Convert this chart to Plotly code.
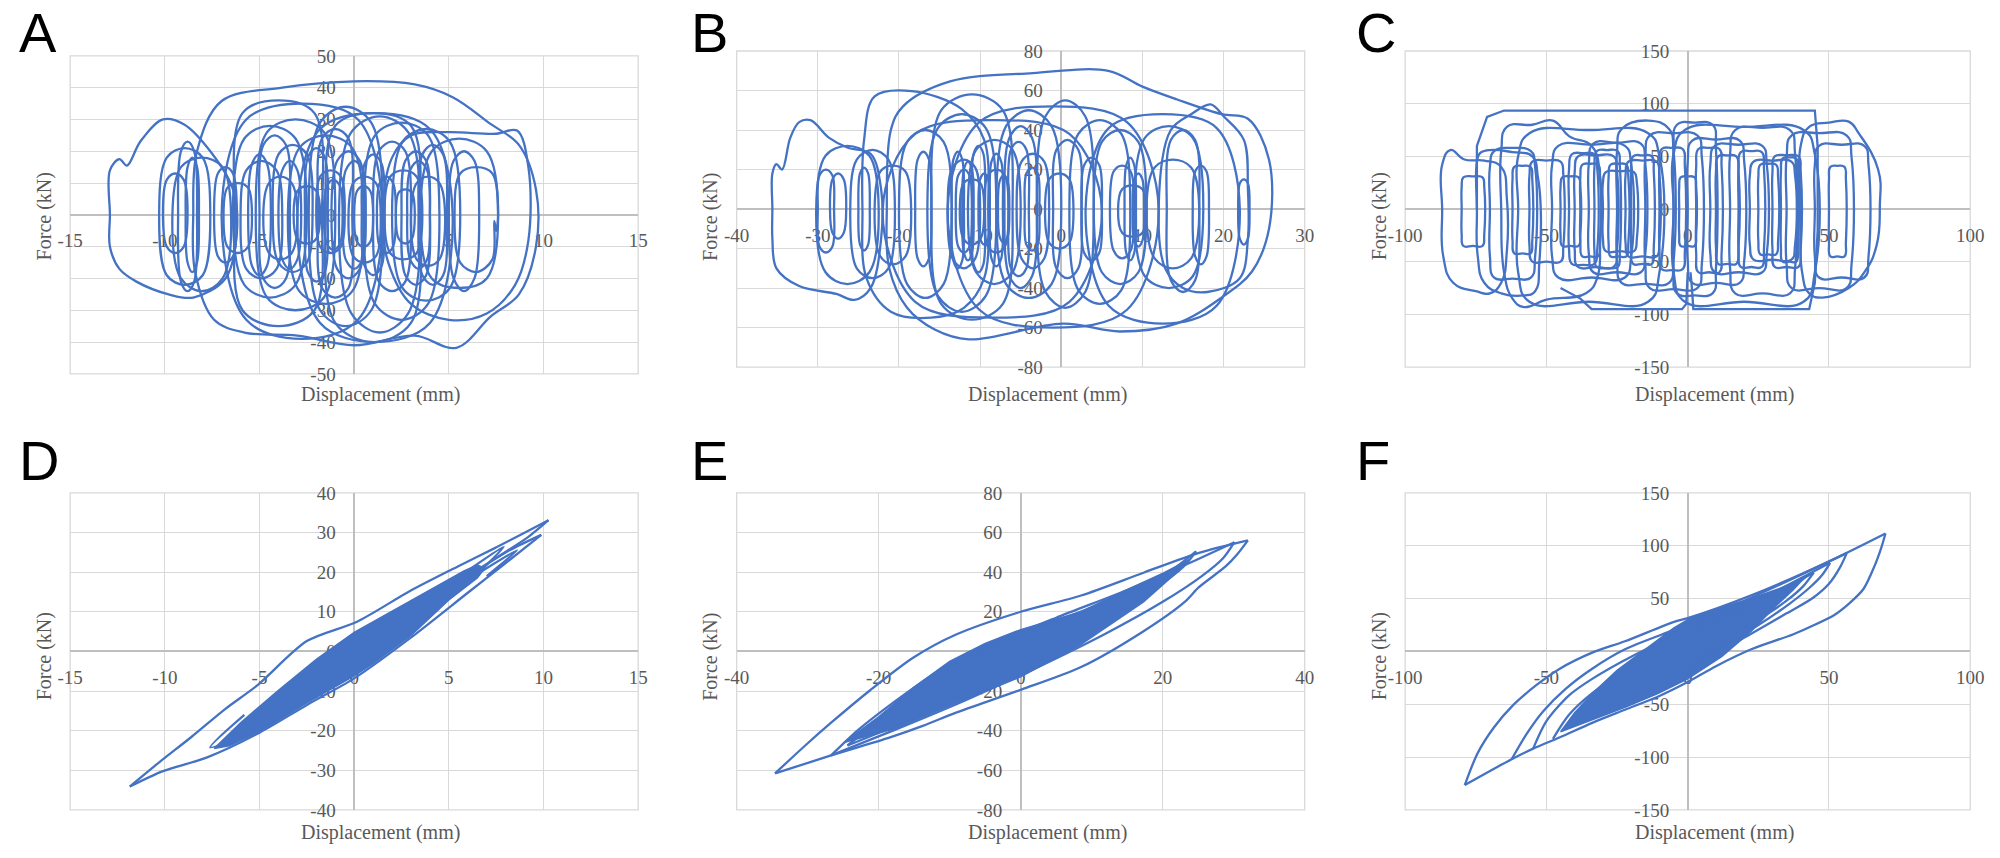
import plotly.graph_objects as go

# loop vertices, (displacement mm, force kN)
# top row: closed loops, drawn as smoothed outlines
a_loops = [
    [(-12.9, 0), (-12.9, 14), (-12.4, 17.5), (-12.0, 15.5), (-11.3, 23), (-10.1, 30), (-9.0, 28.5), (-7.6, 20),
     (-6.4, 8), (-6.2, -6), (-6.8, -20), (-8.5, -26), (-9.8, -25), (-11.5, -21), (-12.4, -17), (-12.9, -10)],
    [(-8.5, 0), (-8.3, 20), (-7.0, 35.8), (-3.8, 40), (0, 42), (3.2, 41), (5.2, 37), (7.2, 28.6), (8.7, 22),
     (9.6, 8), (9.6, -10), (8.7, -25), (7.2, -32), (5.4, -41.8), (3.2, -38), (0, -41), (-3, -38), (-5.8, -37),
     (-7.4, -33), (-8.4, -18)],
    [(1.5, 0), (2.0, 18), (3.0, 25), (5.0, 26), (7.5, 25.5), (8.6, 26.5), (9.2, 15), (9.2, -8), (8.5, -22),
     (7.0, -31), (5.0, -33), (3.0, -28), (1.8, -15)],
    [(-10.3, 0), (-9.9, 18), (-8.95, 21), (-8.0, 18), (-7.6, 0), (-8.0, -19), (-8.95, -22), (-9.9, -19)],
    [(-10.1, 0), (-9.9, 11), (-9.45, 13), (-9.0, 11), (-8.8, 0), (-9.0, -10), (-9.45, -12), (-9.9, -10)],
    [(-9.6, 0), (-9.15, 15), (-8.05, 18), (-6.95, 15), (-6.5, 0), (-6.95, -20), (-8.05, -24), (-9.15, -20)],
    [(-6.4, 0), (-5.8, 24), (-4.45, 28), (-3.1, 24), (-2.5, 0), (-3.1, -22), (-4.45, -26), (-5.8, -22)],
    [(-6.0, 0), (-5.7, 14), (-4.9, 17), (-4.1, 14), (-3.8, 0), (-4.1, -17), (-4.9, -20), (-5.7, -17)],
    [(-5.2, 0), (-4.6, 26), (-3.1, 30), (-1.6, 26), (-1.0, 0), (-1.6, -26), (-3.1, -30), (-4.6, -26)],
    [(-4.8, 0), (-4.5, 10), (-3.9, 12), (-3.3, 10), (-3.0, 0), (-3.3, -12), (-3.9, -14), (-4.5, -12)],
    [(-4.3, 0), (-4.0, 19), (-3.25, 22), (-2.5, 19), (-2.2, 0), (-2.5, -15), (-3.25, -18), (-4.0, -15)],
    [(-3.5, 0), (-2.9, 21), (-1.5, 25), (-0.1, 21), (0.5, 0), (-0.1, -24), (-1.5, -28), (-2.9, -24)],
    [(-7.0, 0), (-5.7, 30), (-2.75, 35), (0.2, 30), (1.5, 0), (0.2, -33), (-2.75, -39), (-5.7, -33)],
    [(-2.4, 0), (-1.8, 29), (-0.45, 34), (0.9, 29), (1.5, 0), (0.9, -30), (-0.45, -35), (-1.8, -30)],
    [(-2.0, 0), (-1.8, 12), (-1.25, 14), (-0.7, 12), (-0.5, 0), (-0.7, -10), (-1.25, -12), (-1.8, -10)],
    [(-1.2, 0), (-0.9, 17), (-0.3, 20), (0.3, 17), (0.6, 0), (0.3, -17), (-0.3, -20), (-0.9, -17)],
    [(-0.8, 0), (-0.15, 26), (1.35, 31), (2.85, 26), (3.5, 0), (2.85, -31), (1.35, -37), (-0.15, -31)],
    [(-0.3, 0), (-0.05, 10), (0.55, 12), (1.15, 10), (1.4, 0), (1.15, -13), (0.55, -15), (-0.05, -13)],
    [(-3.0, 0), (-1.8, 27), (1.1, 32), (4.0, 27), (5.2, 0), (4.0, -34), (1.1, -40), (-1.8, -34)],
    [(0.5, 0), (1.1, 25), (2.5, 29), (3.9, 25), (4.5, 0), (3.9, -28), (2.5, -33), (1.1, -28)],
    [(1.6, 0), (1.9, 12), (2.6, 14), (3.3, 12), (3.6, 0), (3.3, -12), (2.6, -14), (1.9, -12)],
    [(2.5, 0), (2.7, 17), (3.25, 20), (3.8, 17), (4.0, 0), (3.8, -19), (3.25, -22), (2.7, -19)],
    [(2.0, 0), (2.55, 23), (3.8, 27), (5.05, 23), (5.6, 0), (5.05, -23), (3.8, -27), (2.55, -23)],
    [(3.0, 0), (3.3, 10), (3.9, 12), (4.5, 10), (4.8, 0), (4.5, -14), (3.9, -16), (3.3, -14)],
    [(3.5, 0), (4.1, 20), (5.55, 24), (7.0, 20), (7.6, 0), (7.0, -20), (5.55, -23), (4.1, -20)],
    [(5.3, 0), (5.6, 13), (6.45, 15), (7.3, 13), (7.6, 0), (7.5, -5), (7.4, -2), (7.3, -14), (6.45, -18), (5.6, -15)],
    [(-6.9, 0), (-6.7, 8.5), (-6.15, 10), (-5.6, 8.5), (-5.4, 0), (-5.6, -10), (-6.15, -12), (-6.7, -10)],
    [(-3.2, 0), (-3.0, 7.5), (-2.5, 9), (-2.0, 7.5), (-1.8, 0), (-2.0, -7.5), (-2.5, -9), (-3.0, -7.5)],
    [(0, 0), (0.15, 7.5), (0.5, 9), (0.85, 7.5), (1.0, 0), (0.85, -8.5), (0.5, -10), (0.15, -8.5)],
    [(2.2, 0), (2.35, 7), (2.7, 8), (3.05, 7), (3.2, 0), (3.05, -7.5), (2.7, -9), (2.35, -7.5)],
    [(-8.9, 0), (-8.8, 15), (-8.55, 18), (-8.3, 15), (-8.2, 0), (-8.3, -15), (-8.55, -18), (-8.8, -15)],
    [(5.0, 0), (5.25, 17), (5.8, 20), (6.35, 17), (6.6, 0), (6.35, -20), (5.8, -24), (5.25, -20)],
    [(-5.6, 0), (-5.4, 16), (-5.0, 19), (-4.6, 16), (-4.4, 0), (-4.6, -16), (-5.0, -19), (-5.4, -16)],
    [(-4.0, 0), (-3.8, 14), (-3.4, 17), (-3.0, 14), (-2.8, 0), (-3.0, -14), (-3.4, -17), (-3.8, -14)],
    [(-2.6, 0), (-2.45, 18), (-2.0, 21), (-1.55, 18), (-1.4, 0), (-1.55, -18), (-2.0, -21), (-2.45, -18)],
    [(-1.6, 0), (-1.45, 9), (-1.1, 11), (-0.75, 9), (-0.6, 0), (-0.75, -9), (-1.1, -11), (-1.45, -9)],
    [(-0.6, 0), (-0.45, 14), (0.0, 17), (0.45, 14), (0.6, 0), (0.45, -14), (0, -17), (-0.45, -14)],
    [(0.4, 0), (0.55, 16), (1.0, 19), (1.45, 16), (1.6, 0), (1.45, -16), (1.0, -19), (0.55, -16)],
    [(1.2, 0), (1.35, 10), (1.7, 12), (2.05, 10), (2.2, 0), (2.05, -10), (1.7, -12), (1.35, -10)],
    [(2.8, 0), (2.95, 14), (3.4, 17), (3.85, 14), (4.0, 0), (3.85, -14), (3.4, -17), (2.95, -14)],
    [(3.4, 0), (3.6, 19), (4.15, 22), (4.7, 19), (4.9, 0), (4.7, -19), (4.15, -22), (3.6, -19)],
    [(-7.4, 0), (-7.2, 13), (-6.8, 15), (-6.4, 13), (-6.2, 0), (-6.4, -13), (-6.8, -15), (-7.2, -13)],
    [(-9.3, 0), (-9.15, 20), (-8.8, 23), (-8.45, 20), (-8.3, 0), (-8.45, -21), (-8.8, -24), (-9.15, -21)],
    [(-5.0, 0), (-4.8, 22), (-4.2, 25), (-3.6, 22), (-3.4, 0), (-3.6, -20), (-4.2, -23), (-4.8, -20)],
    [(-1.9, 0), (-1.7, 24), (-1.0, 27), (-0.3, 24), (-0.1, 0), (-0.3, -23), (-1.0, -26), (-1.7, -23)],
    [(1.0, 0), (1.3, 20), (2.0, 23), (2.7, 20), (3.0, 0), (2.7, -21), (2.0, -24), (1.3, -21)],
    [(-6.3, 0), (-5.9, 32), (-4.0, 36), (-2.1, 32), (-1.7, 0), (-2.1, -30), (-4.0, -35), (-5.9, -30)],
    [(-1.5, 0), (-1.0, 28), (1.0, 32), (3.0, 28), (3.5, 0), (3.0, -34), (1.0, -40), (-1.0, -34)],
]

b_loops = [
    [(-35.6, 0), (-35.6, 18), (-35.1, 22.7), (-34.4, 20), (-33.4, 36), (-32.3, 44), (-30.9, 45), (-28.6, 36),
     (-26.3, 31), (-23.5, 28), (-22.2, 10), (-22.2, -15), (-23.5, -40), (-25.5, -46), (-27.7, -43), (-32.3, -39),
     (-35.1, -30), (-35.6, -15)],
    [(-21.5, 0), (-21.0, 40), (-19.5, 52), (-13.7, 64.6), (-3.5, 68.8), (5.8, 70), (10, 62), (14.2, 55.6),
     (19.8, 48), (23, 45.7), (25.6, 25), (25.6, -10), (23.5, -31.6), (19.8, -44.7), (14.2, -58), (7.2, -62),
     (0.2, -58), (-11.4, -66), (-15.6, -61), (-19, -50), (-21.2, -30)],
    [(-24.5, 0), (-24.3, 35), (-23, 57), (-18.4, 59.7), (-12.3, 50.7), (-9.5, 35), (-9.0, 0), (-9.5, -35),
     (-12, -50), (-16, -55), (-21, -52), (-24, -35)],
    [(-30.2, 0), (-29.05, 27), (-26.35, 32), (-23.65, 27), (-22.5, 0), (-23.65, -32), (-26.35, -38), (-29.05, -32)],
    [(-28.5, 0), (-28.2, 15), (-27.5, 18), (-26.8, 15), (-26.5, 0), (-26.8, -12), (-27.5, -15), (-28.2, -12)],
    [(-26, 0), (-25.2, 25), (-23.25, 30), (-21.3, 25), (-20.5, 0), (-21.3, -30), (-23.25, -35), (-25.2, -30)],
    [(-23, 0), (-22.3, 19), (-20.75, 22), (-19.2, 19), (-18.5, 0), (-19.2, -24), (-20.75, -28), (-22.3, -24)],
    [(-20, 0), (-19, 34), (-16.75, 40), (-14.5, 34), (-13.5, 0), (-14.5, -38), (-16.75, -45), (-19, -38)],
    [(-16.5, 0), (-15.2, 41), (-12.25, 48), (-9.3, 41), (-8, 0), (-9.3, -44), (-12.25, -52), (-15.2, -44)],
    [(-14, 0), (-13.4, 21), (-12, 25), (-10.6, 21), (-10, 0), (-10.6, -25), (-12, -30), (-13.4, -25)],
    [(-12.5, 0), (-12.05, 13), (-11, 15), (-9.95, 13), (-9.5, 0), (-9.95, -15), (-11, -18), (-12.05, -15)],
    [(-11.5, 0), (-10.5, 30), (-8.25, 35), (-6, 30), (-5, 0), (-6, -32), (-8.25, -38), (-10.5, -32)],
    [(-9.5, 0), (-9.05, 17), (-8, 20), (-6.95, 17), (-6.5, 0), (-6.95, -19), (-8, -22), (-9.05, -19)],
    [(-8, 0), (-6.8, 42), (-4, 50), (-1.2, 42), (0, 0), (-1.2, -38), (-4, -45), (-6.8, -38)],
    [(-5.5, 0), (-4.9, 24), (-3.5, 28), (-2.1, 24), (-1.5, 0), (-2.1, -25), (-3.5, -30), (-4.9, -25)],
    [(-3, 0), (-1.95, 47), (0.5, 55), (2.95, 47), (4, 0), (2.95, -42), (0.5, -50), (-1.95, -42)],
    [(-2, 0), (-1.5, 15), (-0.25, 18), (1, 15), (1.5, 0), (1, -17), (-0.25, -20), (-1.5, -17)],
    [(1, 0), (2.1, 38), (4.75, 45), (7.4, 38), (8.5, 0), (7.4, -41), (4.75, -48), (2.1, -41)],
    [(4, 0), (5, 34), (7.25, 40), (9.5, 34), (10.5, 0), (9.5, -32), (7.25, -38), (5, -32)],
    [(6, 0), (6.45, 19), (7.5, 22), (8.55, 19), (9, 0), (8.55, -21), (7.5, -25), (6.45, -21)],
    [(7, 0), (7.5, 10), (8.75, 12), (10, 10), (10.5, 0), (10, -12), (8.75, -14), (7.5, -12)],
    [(9, 0), (10.3, 36), (13.25, 42), (16.2, 36), (17.5, 0), (16.2, -34), (13.25, -40), (10.3, -34)],
    [(10.5, 0), (11.5, 21), (13.75, 25), (16, 21), (17, 0), (16, -25), (13.75, -30), (11.5, -25)],
    [(12, 0), (13.5, 40), (16, 48), (18.4, 53), (20, 47), (22.5, 35), (23, 10), (23, -15), (22, -35),
     (18, -42), (15, -40), (12.8, -30)],
    [(16.2, 0), (16.5, 19), (17.2, 22), (17.9, 19), (18.2, 0), (17.9, -24), (17.2, -28), (16.5, -24)],
    [(21.8, 0), (22, 13), (22.5, 15), (23, 13), (23.2, 0), (23, -15), (22.5, -18), (22, -15)],
    [(-30, 0), (-29.8, 17), (-29, 20), (-28.2, 17), (-28, 0), (-28.2, -19), (-29, -22), (-29.8, -19)],
    [(-13, 0), (-12.7, 17), (-12, 20), (-11.3, 17), (-11, 0), (-11.3, -19), (-12, -22), (-12.7, -19)],
    [(-7, 0), (-6.4, 36), (-5, 42), (-3.6, 36), (-3, 0), (-3.6, -34), (-5, -40), (-6.4, -34)],
    [(-14, 0), (-10.1, 44), (-1, 52), (8.1, 44), (12, 0), (8.1, -51), (-1, -60), (-10.1, -51)],
    [(-22, 0), (-18, 38), (-8.5, 45), (1, 38), (5, 0), (1, -47), (-8.5, -55), (-18, -47)],
    [(3, 0), (5.85, 41), (12.5, 48), (19.15, 41), (22, 0), (19.15, -49), (12.5, -58), (5.85, -49)],
    [(-13.5, 0), (-13.3, 25), (-12.75, 29), (-12.2, 25), (-12, 0), (-12.2, -26), (-12.75, -30), (-13.3, -26)],
    [(-12.2, 0), (-12, 20), (-11.5, 24), (-11, 20), (-10.8, 0), (-11, -22), (-11.5, -26), (-12, -22)],
    [(-11, 0), (-10.8, 28), (-10.2, 32), (-9.6, 28), (-9.4, 0), (-9.6, -28), (-10.2, -32), (-10.8, -28)],
    [(-10.2, 0), (-10, 15), (-9.5, 18), (-9, 15), (-8.8, 0), (-9, -15), (-9.5, -18), (-10, -15)],
    [(-8.8, 0), (-8.6, 24), (-8, 28), (-7.4, 24), (-7.2, 0), (-7.4, -25), (-8, -29), (-8.6, -25)],
    [(-7.8, 0), (-7.6, 14), (-7.1, 17), (-6.6, 14), (-6.4, 0), (-6.6, -14), (-7.1, -17), (-7.6, -14)],
    [(-6.5, 0), (-6.2, 30), (-5.25, 34), (-4.3, 30), (-4, 0), (-4.3, -30), (-5.25, -34), (-6.2, -30)],
    [(-4.5, 0), (-4.3, 18), (-3.6, 21), (-2.9, 18), (-2.7, 0), (-2.9, -18), (-3.6, -21), (-4.3, -18)],
    [(-1, 0), (-0.6, 30), (0.75, 35), (2.1, 30), (2.5, 0), (2.1, -30), (0.75, -35), (-0.6, -30)],
    [(2.5, 0), (2.8, 22), (3.75, 26), (4.7, 22), (5, 0), (4.7, -22), (3.75, -26), (2.8, -22)],
    [(7.8, 0), (8, 22), (8.5, 26), (9, 22), (9.2, 0), (9, -22), (8.5, -26), (8, -22)],
    [(8.8, 0), (9, 15), (9.5, 18), (10, 15), (10.2, 0), (10, -16), (9.5, -19), (9, -16)],
    [(-18, 0), (-17.7, 25), (-17, 29), (-16.3, 25), (-16, 0), (-16.3, -25), (-17, -29), (-17.7, -25)],
    [(-25, 0), (-24.8, 18), (-24.3, 21), (-23.8, 18), (-23.6, 0), (-23.8, -18), (-24.3, -21), (-24.8, -18)],
    [(13, 0), (13.5, 35), (15, 40), (16.5, 35), (17, 0), (16.5, -36), (15, -42), (13.5, -36)],
    [(-16, 0), (-14.8, 50), (-11, 58), (-7.2, 50), (-6, 0), (-7.2, -48), (-11, -56), (-14.8, -48)],
]

c_loops = [
    [(-86.9, 0), (-86.9, 42), (-84, 56), (-79, 47), (-72, 46), (-66, 40), (-64, 10), (-64, -40), (-66, -70),
     (-70, -80), (-75, -78), (-83, -70), (-86.5, -45)],
    [(-74.6, 0), (-74.6, 45), (-73.5, 53), (-70, 56), (-62, 54), (-55, 50), (-53, 30), (-52, 0), (-52.5, -50),
     (-54, -78), (-58, -82), (-66, -80), (-72, -70), (-74.3, -45)],
    [(-66, 0), (-66, 55), (-64, 78), (-55, 80), (-47.7, 84), (-41.9, 69), (-34, 60), (-31, 30), (-31, -30),
     (-32, -65), (-36, -80), (-50, -86), (-58, -93), (-62, -85), (-65, -60)],
    [(-48, 0), (-48, 42), (-45.8, 60), (-34, 61), (-22.2, 60), (-20, 42), (-20, -45), (-22.2, -65), (-34, -65),
     (-45.8, -65), (-48, -45)],
    [(-56, 0), (-56, 32), (-55, 45), (-50, 46), (-45, 45), (-44, 32), (-44, -35), (-45, -50), (-50, -50),
     (-55, -50), (-56, -35)],
    [(-40, 0), (-40, 35), (-38.8, 50), (-32.5, 51), (-26.2, 50), (-25, 35), (-25, -38), (-26.2, -55), (-32.5, -55),
     (-38.8, -55), (-40, -38)],
    [(-35, 0), (-35, 43), (-33.4, 62), (-25, 63), (-16.6, 62), (-15, 43), (-15, -42), (-16.6, -60), (-25, -60),
     (-33.4, -60), (-35, -42)],
    [(-30, 0), (-30, 25), (-29, 35), (-24, 36), (-19, 35), (-18, 25), (-18, -28), (-19, -40), (-24, -40),
     (-29, -40), (-30, -28)],
    [(-25, 0), (-25, 55), (-23.4, 76), (-14, 84), (-6.6, 76), (-5, 55), (-5, -49), (-6.6, -70), (-15, -71),
     (-23.4, -70), (-25, -49)],
    [(-22, 0), (-22, 32), (-21, 45), (-16, 46), (-11, 45), (-10, 32), (-10, -32), (-11, -45), (-16, -45),
     (-21, -45), (-22, -32)],
    [(-15, 0), (-15, 49), (-13.4, 70), (-5, 72), (3.4, 70), (5, 49), (5, -52), (3.4, -75), (-5, -76),
     (-13.4, -75), (-15, -52)],
    [(-5, 0), (-5, 56), (-3.8, 80), (2.5, 82), (8.8, 80), (10, 56), (10, -56), (8.8, -80), (2.5, -82),
     (-3.8, -80), (-5, -56)],
    [(0, 0), (0, 45), (1.6, 65), (10, 66), (18.4, 65), (20, 45), (20, -49), (18.4, -70), (10, -70), (1.6, -70),
     (0, -49)],
    [(8, 0), (8, 42), (9.6, 60), (18, 61), (26.4, 60), (28, 42), (28, -42), (26.4, -60), (18, -60), (9.6, -60),
     (8, -42)],
    [(15, 0), (15, 52), (16.8, 75), (26.5, 77), (36.2, 75), (38, 52), (38, -56), (36.2, -80), (26.5, -80),
     (16.8, -80), (15, -56)],
    [(22, 0), (22, 32), (23.3, 45), (30, 46), (36.7, 45), (38, 32), (38, -34), (36.7, -48), (30, -48),
     (23.3, -48), (22, -34)],
    [(30, 0), (30, 35), (30.8, 50), (35, 51), (39.2, 50), (40, 35), (40, -38), (39.2, -55), (35, -55),
     (30.8, -55), (30, -38)],
    [(35, 0), (35, 49), (36.8, 70), (46.5, 72), (56.2, 70), (58, 49), (58, -52), (56.2, -75), (46.5, -75),
     (36.8, -75), (35, -52)],
    [(40, 0), (40, 60), (43, 78), (50, 82), (57, 83), (60.5, 72), (67.4, 37.5), (68, 3), (66.9, -34),
     (62.8, -59), (57, -75), (47.7, -84), (43, -80), (40.5, -60)],
    [(45, 0), (45, 42), (46.5, 60), (54.5, 61), (62.5, 60), (64, 42), (64, -45), (62.5, -65), (54.5, -65),
     (46.5, -65), (45, -45)],
    [(50, 0), (50, 28), (50.5, 40), (53, 41), (55.5, 40), (56, 28), (56, -31), (55.5, -45), (53, -45),
     (50.5, -45), (50, -31)],
    [(-45, 0), (-45, 21), (-44.4, 30), (-41.5, 31), (-38.6, 30), (-38, 21), (-38, -24), (-38.6, -35),
     (-41.5, -35), (-44.4, -35), (-45, -24)],
    [(-60, 0), (-60, 50), (-56, 72), (-35, 75), (-14, 72), (-10, 50), (-10, -60), (-14, -88), (-35, -88),
     (-56, -88), (-60, -60)],
    [(-5, 0), (-5, 52), (-1, 75), (20, 78), (41, 75), (45, 52), (45, -60), (41, -88), (20, -88), (-1, -88),
     (-5, -60)],
    [(-3, 0), (-3, 21), (-2.5, 30), (0, 31), (2.5, 30), (3, 21), (3, -24), (2.5, -35), (0, -35), (-2.5, -35),
     (-3, -24)],
    [(-80, 0), (-80, 21), (-79.4, 30), (-76, 31), (-72.6, 30), (-72, 21), (-72, -24), (-72.6, -35), (-76, -35),
     (-79.4, -35), (-80, -24)],
    [(-42, 0), (-42, 38), (-41, 52), (-37, 53), (-33, 52), (-32, 38), (-32, -38), (-33, -52), (-37, -53),
     (-41, -52), (-42, -38)],
    [(-38, 0), (-38, 30), (-37.3, 42), (-34.5, 43), (-31.7, 42), (-31, 30), (-31, -32), (-31.7, -45),
     (-34.5, -45), (-37.3, -45), (-38, -32)],
    [(-33, 0), (-33, 40), (-32.2, 55), (-28.5, 56), (-24.8, 55), (-24, 40), (-24, -40), (-24.8, -55),
     (-28.5, -56), (-32.2, -55), (-33, -40)],
    [(-28, 0), (-28, 30), (-27.3, 42), (-24.5, 43), (-21.7, 42), (-21, 30), (-21, -32), (-21.7, -45),
     (-24.5, -45), (-27.3, -45), (-28, -32)],
    [(-20, 0), (-20, 35), (-19.3, 50), (-16, 51), (-12.7, 50), (-12, 35), (-12, -36), (-12.7, -52), (-16, -52),
     (-19.3, -52), (-20, -36)],
    [(10, 0), (10, 35), (10.8, 50), (14, 51), (17.2, 50), (18, 35), (18, -36), (17.2, -52), (14, -52),
     (10.8, -52), (10, -36)],
    [(18, 0), (18, 38), (18.8, 54), (22.5, 55), (26.2, 54), (27, 38), (27, -38), (26.2, -55), (22.5, -55),
     (18.8, -55), (18, -38)],
    [(25, 0), (25, 30), (25.7, 42), (28.5, 43), (31.3, 42), (32, 30), (32, -30), (31.3, -43), (28.5, -43),
     (25.7, -43), (25, -30)],
    [(33, 0), (33, 35), (33.6, 48), (36, 49), (38.4, 48), (39, 35), (39, -36), (38.4, -50), (36, -50),
     (33.6, -50), (33, -36)],
    [(-62, 0), (-62, 28), (-61.4, 40), (-58.5, 41), (-55.6, 40), (-55, 28), (-55, -30), (-55.6, -42),
     (-58.5, -42), (-61.4, -42), (-62, -30)],
    [(-10, 0), (-10, 40), (-9.2, 57), (-5.5, 58), (-1.8, 57), (-1, 40), (-1, -40), (-1.8, -57), (-5.5, -58),
     (-9.2, -57), (-10, -40)],
    [(3, 0), (3, 40), (3.8, 57), (7.5, 58), (11.2, 57), (12, 40), (12, -42), (11.2, -60), (7.5, -60),
     (3.8, -60), (3, -42)],
    [(-70, 0), (-70, 40), (-68.5, 55), (-62, 58), (-55.5, 55), (-54, 40), (-54, -45), (-55.5, -65), (-62, -66),
     (-68.5, -65), (-70, -45)],
]

# the clipped plateau of panel C (straight runs)
c_flat = [
    [(-74.6, 0), (-74.6, 60), (-71, 87.5), (-65, 93.5), (45, 93.5), (46, 59), (46, -20), (45, -70), (43, -95),
     (2, -95), (1.5, -75), (1, -60)],
    [(0, -60), (-0.5, -90), (-2, -95), (-34, -95), (-38, -85), (-45, -75)],
]

# bottom row: open branches between reversal tips + the solid core
d_branches = [
    [(-11.85, -34.1), (-10.3, -28), (-8.6, -21.6), (-6.8, -14.5), (-5.1, -8.5), (-2.5, 2.6), (0.15, 7.5),
     (2.97, 15.3), (5.5, 21.5), (7.4, 26), (10.26, 33.1)],
    [(10.26, 33.1), (9.2, 28.9), (7.7, 24.2), (6.0, 19.0)],
    [(4.5, 14.5), (6.5, 20.5), (8.2, 25.5), (9.88, 29.4)],
    [(9.88, 29.4), (8.0, 22.3), (6.0, 14.8), (2.97, 3.4), (0, -6.8), (-2.5, -13.5), (-5.0, -20.5),
     (-7.8, -26.8), (-10.1, -30.2), (-11.85, -34.1)],
    [(5.0, 17), (7.9, 26.4), (6.5, 19.5)],
    [(6.0, 18), (8.6, 25.5), (7.0, 19)],
    [(-5.8, -16), (-7.6, -24.2), (-5.2, -19.5)],
]
d_core = [(-7.4, -24.5), (-6, -18), (-4, -9.8), (-2, -2), (0, 4.8), (2.5, 11.5), (4.5, 17), (5.8, 20.3),
          (6.5, 21.8), (6.9, 21), (6.5, 18.5), (5, 13), (3, 4), (1, -3), (0, -6.2), (-2.5, -13), (-5, -20.2),
          (-6.6, -23.8)]

e_branches = [
    [(-34.6, -61.6), (-30.5, -48), (-26.7, -36), (-21.2, -19.6), (-15.1, -3.1), (-9.1, 8.5), (0, 20),
     (8.5, 28.2), (17.3, 39.7), (25.1, 49.7), (32, 56)],
    [(32, 56), (30.5, 49), (28.9, 43), (25.1, 32.4), (23.1, 25), (17.3, 10.2), (8.5, -7.9), (0, -19.4),
     (-9.1, -30.9), (-13.8, -37.6), (-18.4, -43.4), (-26.7, -52.5), (-34.6, -61.6)],
    [(-26.7, -52.5), (-23, -40), (-18, -26), (-12, -11), (-5, 2), (5, 17), (15, 31), (24, 45), (30.1, 55.1)],
    [(30.1, 55.1), (28.5, 47), (25.5, 38), (20, 25), (12, 9), (3, -7), (-8, -25), (-18, -40), (-26.7, -52.5)],
    [(-24.4, -47.5), (-20, -35), (-14, -19), (-7, -4), (2, 11), (12, 25), (20, 38), (24.7, 50.5)],
    [(24.7, 50.5), (23, 43), (19, 32), (12, 17), (4, 2), (-6, -17), (-16, -35), (-24.4, -47.5)],
]
e_core = [(-24.9, -46), (-20, -33), (-15, -18), (-10, -5), (-5, 4), (0, 11), (8.5, 20), (14.3, 30),
          (20.2, 39.7), (23.7, 46.3), (22, 40), (17.3, 25), (8.5, 3.6), (0, -12.8), (-9.1, -26),
          (-17.8, -39)]

f_branches = [
    [(-78.9, -126.5), (-74.4, -96.6), (-68.6, -72), (-61.7, -50.6), (-53.6, -32), (-45.4, -16.6),
     (-33.8, -1.2), (-22.2, 9.6), (-4.8, 28), (0, 31.4), (22.5, 53), (49, 83.8), (70, 111.5)],
    [(70, 111.5), (68.5, 98), (66, 80), (62.2, 59), (57, 45), (51.9, 34.5), (44, 24), (37.2, 16), (22.5, 2),
     (10, -14), (0, -29), (-10.6, -42.9), (-22.2, -55.2), (-33.8, -67.6), (-45.4, -81.5), (-54.7, -92),
     (-62.3, -102), (-78.9, -126.5)],
    [(-62.3, -102), (-57, -78), (-51.2, -56.8), (-43, -35), (-33.8, -16.4), (-22.2, 2), (-4.8, 20.4),
     (10, 36), (30, 60), (56.3, 93)],
    [(56.3, 93), (54, 80), (50, 64), (44, 50), (35, 36), (22, 16), (8, -5), (0, -22)],
    [(-54.7, -92), (-50, -66), (-41.9, -41.4), (-33.8, -26), (-20, -5), (0, 20), (20, 42), (50.4, 83.8)],
    [(50.4, 83.8), (47.5, 72), (43, 60), (36, 45), (25, 25), (12, 5), (0, -18)],
    [(-47.7, -82.7), (-42, -60), (-34, -40), (-22, -18), (-5, 8), (15, 33), (44.6, 74.5)],
    [(44.6, 74.5), (41, 62), (35, 48), (25, 30), (12, 10), (0, -12)],
]
f_core = [(-45, -76), (-40, -58), (-33, -38), (-25, -18), (-15, 2), (-5, 22), (0, 30), (10, 40), (22.5, 50),
          (37.2, 64), (43, 73), (40, 66), (37.2, 58), (30, 40), (22.5, 19), (12, -5), (0, -26),
          (-10.6, -40), (-22.2, -53), (-33.8, -65)]

# tick values per axis
a_xt, a_yt = [-15, -10, -5, 0, 5, 10, 15], [-50, -40, -30, -20, -10, 0, 10, 20, 30, 40, 50]
b_xt, b_yt = [-40, -30, -20, -10, 0, 10, 20, 30], [-80, -60, -40, -20, 0, 20, 40, 60, 80]
c_xt, c_yt = [-100, -50, 0, 50, 100], [-150, -100, -50, 0, 50, 100, 150]
d_xt, d_yt = [-15, -10, -5, 0, 5, 10, 15], [-40, -30, -20, -10, 0, 10, 20, 30, 40]
e_xt, e_yt = [-40, -20, 0, 20, 40], [-80, -60, -40, -20, 0, 20, 40, 60, 80]
f_xt, f_yt = [-100, -50, 0, 50, 100], [-150, -100, -50, 0, 50, 100, 150]

BLUE = "#4472C4"
GRID = "#d9d9d9"
ZERO = "#bfbfbf"
GREY = "#595959"
SERIF = "Liberation Serif"

COLS = [(0.027, 0.3155), (0.3655, 0.654), (0.705, 0.992)]
ROW_A = (0.5653, 0.9452)
ROW_TOP = (0.5734, 0.9510)
ROW_BOT = (0.0443, 0.4231)

panels = [
    dict(lab="A", loops=a_loops, smooth=1.0, xt=a_xt, yt=a_yt, col=0, dom_y=ROW_A),
    dict(lab="B", loops=b_loops, smooth=1.0, xt=b_xt, yt=b_yt, col=1, dom_y=ROW_TOP),
    dict(lab="C", loops=c_loops, smooth=1.3, flat=c_flat, xt=c_xt, yt=c_yt, col=2, dom_y=ROW_TOP),
    dict(lab="D", branches=d_branches, core=d_core, xt=d_xt, yt=d_yt, col=0, dom_y=ROW_BOT),
    dict(lab="E", branches=e_branches, core=e_core, xt=e_xt, yt=e_yt, col=1, dom_y=ROW_BOT),
    dict(lab="F", branches=f_branches, core=f_core, xt=f_xt, yt=f_yt, col=2, dom_y=ROW_BOT),
]


def join(paths, close):
    xs, ys = [], []
    for p in paths:
        pts = list(p) + [p[0]] if close else list(p)
        xs += [q[0] for q in pts] + [None]
        ys += [q[1] for q in pts] + [None]
    return xs, ys


fig = go.Figure()
tickfont = dict(family=SERIF, size=19, color=GREY)
annotations = []
shapes = []

for i, p in enumerate(panels, start=1):
    xa, ya = ("x", "y") if i == 1 else (f"x{i}", f"y{i}")
    line = dict(color=BLUE, width=2.3)
    if p.get("core"):
        cx, cy = join([p["core"]], True)
        fig.add_scatter(x=cx, y=cy, mode="lines", fill="toself", fillcolor=BLUE,
                        line=dict(color=BLUE, width=1.5), xaxis=xa, yaxis=ya)
    if p.get("loops"):
        lx, ly = join(p["loops"], True)
        fig.add_scatter(x=lx, y=ly, mode="lines", line=dict(line, shape="spline", smoothing=p["smooth"]),
                        xaxis=xa, yaxis=ya)
    if p.get("flat"):
        fx, fy = join(p["flat"], False)
        fig.add_scatter(x=fx, y=fy, mode="lines", line=line, xaxis=xa, yaxis=ya)
    if p.get("branches"):
        bx, by = join(p["branches"], False)
        fig.add_scatter(x=bx, y=by, mode="lines", line=dict(line, shape="spline", smoothing=0.8),
                        xaxis=xa, yaxis=ya)

    dx0, dx1 = COLS[p["col"]]
    dy0, dy1 = p["dom_y"]
    x0, x1 = p["xt"][0], p["xt"][-1]
    y0, y1 = p["yt"][0], p["yt"][-1]
    xzero = dx0 + (0 - x0) / (x1 - x0) * (dx1 - dx0)
    yzero = dy0 + (0 - y0) / (y1 - y0) * (dy1 - dy0)
    common = dict(showgrid=True, gridcolor=GRID, gridwidth=1.3, showline=True, linecolor=ZERO, linewidth=1.5,
                  zeroline=False, ticks="", tickfont=tickfont, layer="below traces", fixedrange=True)
    fig.layout["xaxis" if i == 1 else f"xaxis{i}"] = dict(
        common, domain=[dx0, dx1], range=[x0, x1], tickvals=p["xt"], ticktext=[str(v) for v in p["xt"]],
        anchor="free", position=yzero, ticklabelstandoff=9)
    fig.layout["yaxis" if i == 1 else f"yaxis{i}"] = dict(
        common, domain=[dy0, dy1], range=[y0, y1], tickvals=p["yt"], ticktext=[str(v) for v in p["yt"]],
        anchor="free", position=xzero, side="left", ticklabelstandoff=14)

    shapes.append(dict(type="rect", xref=f"{xa} domain", yref=f"{ya} domain", x0=0, x1=1, y0=0, y1=1,
                       line=dict(color=GRID, width=1.3), layer="below"))

    top_row = p["dom_y"] is not ROW_BOT
    left_px = dx0 * 2000
    mid_px = (dx0 + dx1) / 2 * 2000
    annotations += [
        dict(text=p["lab"], x=[0, 683, 1358][p["col"]] / 2000, y=1 - (23 if top_row else 462) / 858,
             xref="paper", yref="paper", xanchor="left", yanchor="middle", showarrow=False,
             font=dict(family="Liberation Sans", size=56, color="black")),
        dict(text="Displacement (mm)", x=(mid_px + 27) / 2000, y=1 - (394 if top_row else 843) / 858,
             xref="paper", yref="paper", xanchor="center", yanchor="middle", showarrow=False,
             font=dict(family=SERIF, size=20, color=GREY)),
        dict(text="Force (kN)", x=(left_px - 26) / 2000, y=1 - (212 if top_row else 663) / 858,
             xref="paper", yref="paper", xanchor="center", yanchor="middle", showarrow=False,
             textangle=-90, font=dict(family=SERIF, size=20, color=GREY)),
    ]

fig.update_traces(hoverinfo="skip", showlegend=False)
fig.update_layout(width=2000, height=858, margin=dict(l=0, r=0, t=0, b=0),
                  paper_bgcolor="white", plot_bgcolor="white",
                  annotations=annotations, shapes=shapes, showlegend=False)
fig.write_html("out.html", config={"displayModeBar": False},
               post_script="document.body.style.margin='0';")
